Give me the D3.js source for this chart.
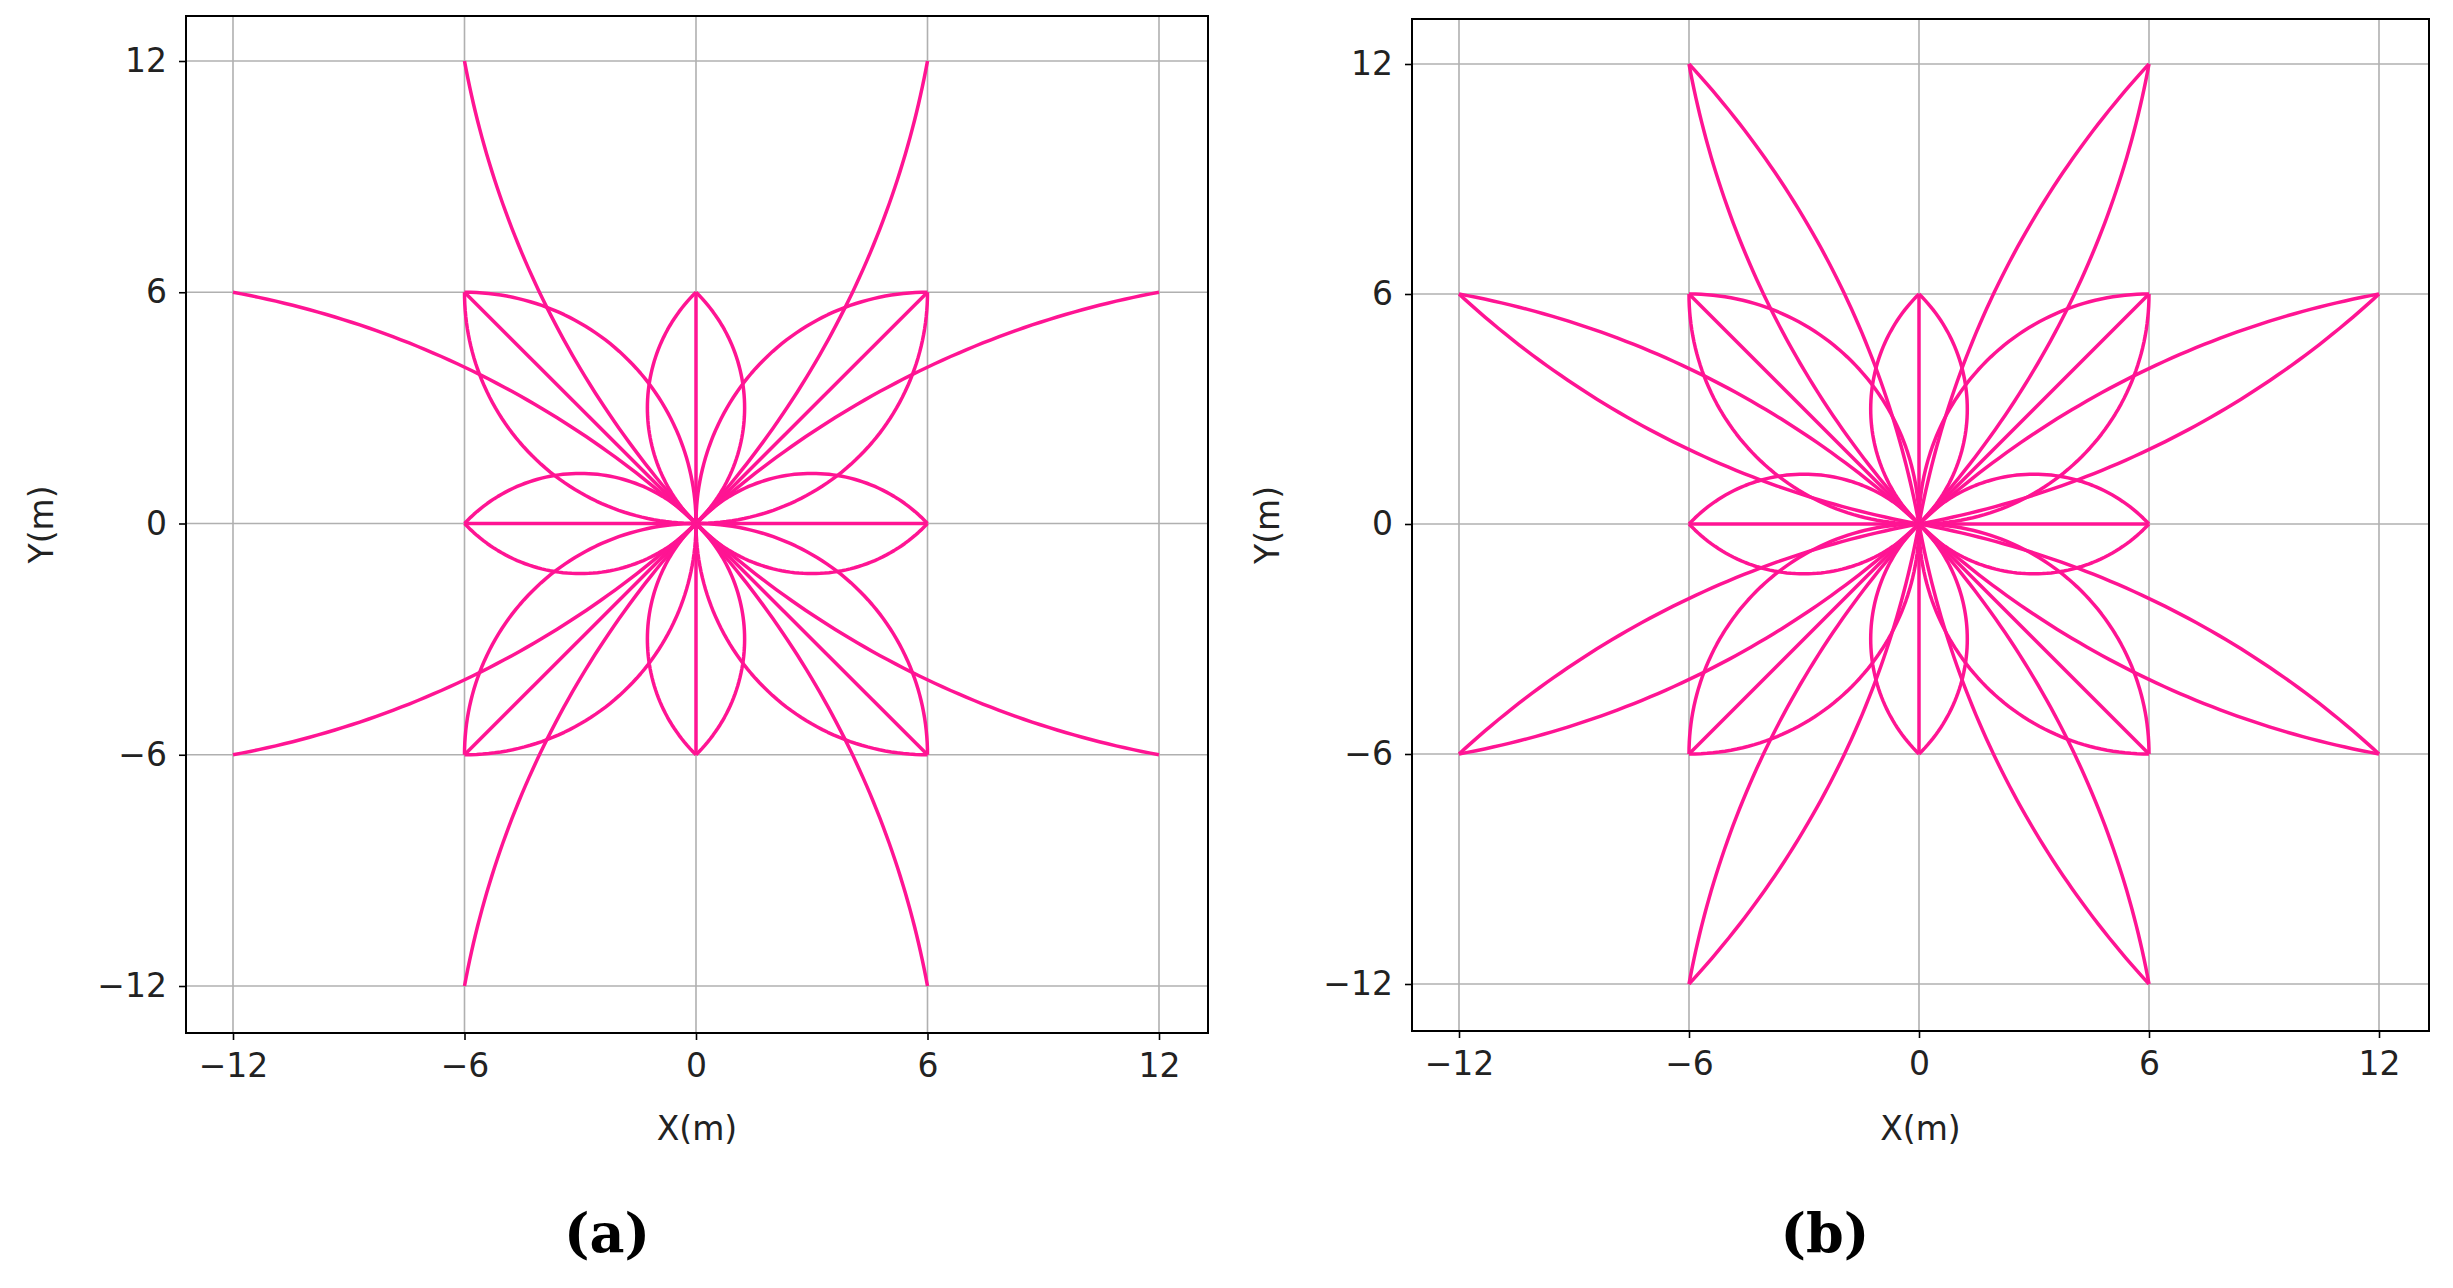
<!DOCTYPE html>
<html><head><meta charset="utf-8">
<script src="https://cdn.jsdelivr.net/npm/d3@7"></script>
<style>body{margin:0;background:#fff}svg{display:block}</style></head>
<body><svg id="c" width="2453" height="1288"></svg>
<script>
const ticks = [-12, -6, 0, 6, 12];
// short petal tips (lens + spoke) and sagitta of each lens arc
const shortTipX = [6, 6, 0, -6, -6, -6, 0, 6];
const shortTipY = [0, 6, 6, 6, 0, -6, -6, -6];
const shortSag  = [1.3, 1.76, 1.26, 1.76, 1.3, 1.76, 1.26, 1.76];
// long petal tips; in (a) only the arc bulging toward the nearest diagonal
const longTipX = [12, 6, -6, -12, -12, -6, 6, 12];
const longTipY = [6, 12, 12, 6, -6, -12, -12, -6];
const longSag  = [0.95, 0.95, 0.95, 0.95, 0.95, 0.95, 0.95, 0.95];
const longSideA = [1, -1, 1, -1, 1, -1, 1, -1];
const panelLabels = ["(a)", "(b)"];
const panels = [
  {left:186, right:1208, top:16, bottom:1033, x0:233, x1:1159, y0:986, y1:61, lx:607},
  {left:1412, right:2429, top:19, bottom:1031, x0:1459, x1:2379, y0:984, y1:64, lx:1825}
];
const pink = "#ff1493";
function arcPts(px, py, s, side) {
  const L = Math.hypot(px, py), R = (L*L/4 + s*s)/(2*s);
  const mx = px/2, my = py/2, nx = -py/L*side, ny = px/L*side;
  const cx = mx - nx*(R - s), cy = my - ny*(R - s);
  let a0 = Math.atan2(-cy, -cx), a1 = Math.atan2(py - cy, px - cx);
  let d = a1 - a0; while (d > Math.PI) d -= 2*Math.PI; while (d < -Math.PI) d += 2*Math.PI;
  return d3.range(0, 61).map(i => [cx + R*Math.cos(a0 + d*i/60), cy + R*Math.sin(a0 + d*i/60)]);
}
const svg = d3.select("#c");
panels.forEach((p, k) => {
  const x = d3.scaleLinear().domain([-12, 12]).range([p.x0, p.x1]);
  const y = d3.scaleLinear().domain([-12, 12]).range([p.y0, p.y1]);
  const g = svg.append("g");
  const line = d3.line().x(d => x(d[0])).y(d => y(d[1]));
  ticks.forEach(t => {
    g.append("line").attr("x1", x(t)).attr("x2", x(t)).attr("y1", p.top).attr("y2", p.bottom).attr("stroke", "#b0b0b0").attr("stroke-width", 1.6);
    g.append("line").attr("y1", y(t)).attr("y2", y(t)).attr("x1", p.left).attr("x2", p.right).attr("stroke", "#b0b0b0").attr("stroke-width", 1.6);
  });
  const ax = g.append("g").attr("transform", `translate(0,${p.bottom})`)
    .call(d3.axisBottom(x).tickValues(ticks).tickSize(7).tickPadding(14).tickFormat(d => d < 0 ? "\u2212" + (-d) : d));
  const ay = g.append("g").attr("transform", `translate(${p.left},0)`)
    .call(d3.axisLeft(y).tickValues(ticks).tickSize(7).tickPadding(12).tickFormat(d => d < 0 ? "\u2212" + (-d) : d));
  [ax, ay].forEach(a => { a.select(".domain").remove(); a.selectAll("line").attr("stroke", "#000").attr("stroke-width", 1.6);
    a.selectAll("text").attr("font-family", "DejaVu Sans").attr("font-size", 33).attr("fill", "#222"); });
  const dg = g.append("g").attr("fill", "none").attr("stroke", pink).attr("stroke-width", 3.5).attr("stroke-linejoin", "round");
  shortTipX.forEach((tx, i) => {
    const ty = shortTipY[i];
    dg.append("path").attr("d", line([[0, 0], [tx, ty]]));
    dg.append("path").attr("d", line(arcPts(tx, ty, shortSag[i], 1)));
    dg.append("path").attr("d", line(arcPts(tx, ty, shortSag[i], -1)));
  });
  longTipX.forEach((tx, i) => {
    const ty = longTipY[i];
    if (k === 0) dg.append("path").attr("d", line(arcPts(tx, ty, longSag[i], longSideA[i])));
    else { dg.append("path").attr("d", line(arcPts(tx, ty, longSag[i], 1)));
           dg.append("path").attr("d", line(arcPts(tx, ty, longSag[i], -1))); }
  });
  g.append("rect").attr("x", p.left).attr("y", p.top).attr("width", p.right - p.left).attr("height", p.bottom - p.top)
    .attr("fill", "none").attr("stroke", "#000").attr("stroke-width", 2);
  g.append("text").attr("x", (p.left + p.right)/2).attr("y", 1140).attr("text-anchor", "middle")
    .attr("font-family", "DejaVu Sans").attr("font-size", 33).attr("fill", "#222").text("X(m)");
  g.append("text").attr("transform", `translate(${p.left - 133},${(p.top + p.bottom)/2}) rotate(-90)`).attr("text-anchor", "middle")
    .attr("font-family", "DejaVu Sans").attr("font-size", 33).attr("fill", "#222").text("Y(m)");
  g.append("text").attr("x", p.lx).attr("y", 1252).attr("text-anchor", "middle")
    .attr("font-family", "DejaVu Serif").attr("font-weight", "bold").attr("font-size", 54).text(panelLabels[k]);
});
</script></body></html>
